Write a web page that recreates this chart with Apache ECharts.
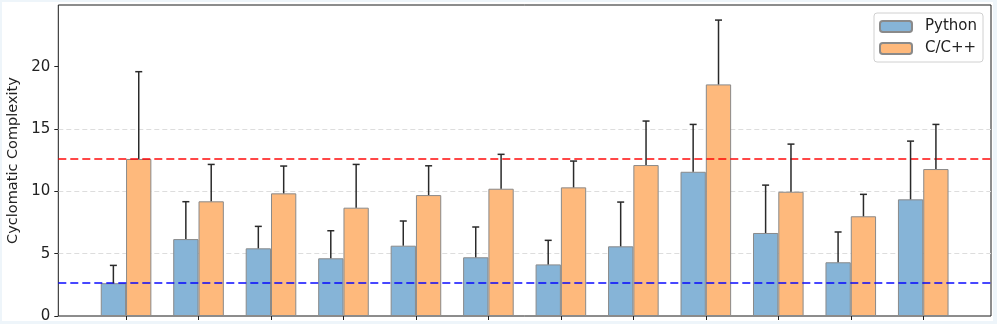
<!DOCTYPE html>
<html lang="en">
<head>
    <meta charset="UTF-8">
    <title>Cyclomatic Complexity</title>
    <style>
        body {
            margin: 0;
            background: #eef5fa;
            overflow: hidden;
        }

        #chart {
            position: absolute;
            left: 2px;
            top: 2px;
            width: 991px;
            height: 319px;
            background: #fff;
        }
    </style>
</head>
<body>
    <div id="chart"></div>
    <script src="https://cdn.jsdelivr.net/npm/echarts@6/dist/echarts.min.js"></script>
    <script>
        // group index 0..11, no visible labels in the source
        var groups = [0, 1, 2, 3, 4, 5, 6, 7, 8, 9, 10, 11];
        var seriesNames = ['Python', 'C/C++'];

        var pyMean = [2.63, 6.17, 5.43, 4.63, 5.64, 4.71, 4.14, 5.59, 11.57, 6.66, 4.31, 9.36];
        var pyErr = [1.43, 3.0, 1.76, 2.21, 1.98, 2.43, 1.93, 3.55, 3.8, 3.84, 2.43, 4.67];
        var cMean = [12.6, 9.2, 9.84, 8.69, 9.7, 10.21, 10.32, 12.11, 18.58, 9.97, 8.0, 11.79];
        var cErr = [7.0, 2.96, 2.19, 3.47, 2.35, 2.76, 2.11, 3.53, 5.16, 3.82, 1.76, 3.58];

        var yTicks = [0, 5, 10, 15, 20];

        var myChart = echarts.init(document.getElementById('chart'));

        var halfW = 0.175; // half bar width in axis units

        function barData(vals) {
            return vals.map(function (v, i) { return [groups[i], v]; });
        }

        function errData(vals, errs, off) {
            return vals.map(function (v, i) { return [groups[i] + off, v, errs[i]]; });
        }

        function renderErr(params, api) {
            var x = api.value(0);
            var top = api.coord([x, api.value(1) + api.value(2)]);
            var base = api.coord([x, api.value(1)]);
            var style = { stroke: '#2a2a2a', lineWidth: 1.5 };
            return {
                type: 'group',
                children: [
                    { type: 'line', shape: { x1: base[0], y1: base[1], x2: top[0], y2: top[1] }, style: style },
                    { type: 'line', shape: { x1: top[0] - 3.5, y1: top[1], x2: top[0] + 3.5, y2: top[1] }, style: style }
                ]
            };
        }

        var font = 'DejaVu Sans';

        var option = {
            animation: false,
            textStyle: { fontFamily: font },
            grid: {
                left: 56.3, right: 2, top: 3, bottom: 5,
                outerBoundsMode: 'none',
                containLabel: false,
                show: true, borderColor: '#1a1a1a', borderWidth: 1
            },
            legend: {
                orient: 'vertical',
                right: 10,
                top: 11,
                itemWidth: 32,
                itemHeight: 11,
                itemGap: 7,
                padding: [6, 6, 6, 5],
                borderColor: '#d0d0d0',
                borderWidth: 1,
                borderRadius: 3,
                backgroundColor: 'rgba(255,255,255,0.8)',
                textStyle: { fontSize: 15, color: '#222', fontFamily: font, padding: [0, 0, 0, 8] },
                data: seriesNames
            },
            xAxis: {
                type: 'value',
                min: -0.935,
                max: 11.935,
                axisLine: { show: false, onZero: false },
                splitLine: { show: false },
                axisTick: { show: true, customValues: groups, length: 4, lineStyle: { color: '#222' } },
                axisLabel: { show: false }
            },
            yAxis: {
                type: 'value',
                min: 0,
                max: 24.95,
                interval: 5,
                name: 'Cyclomatic Complexity',
                nameLocation: 'middle',
                nameGap: 38,
                nameTextStyle: { fontSize: 14.5, color: '#222', fontFamily: font },
                axisLine: { show: false, onZero: false },
                axisTick: { show: true, customValues: yTicks, length: 4, lineStyle: { color: '#222' } },
                axisLabel: { customValues: yTicks, fontSize: 15, color: '#222', margin: 8 },
                splitLine: {
                    show: true, showMinLine: false, showMaxLine: false,
                    lineStyle: { color: '#dddddd', type: [5, 3], width: 1 }
                }
            },
            series: [
                {
                    name: seriesNames[0],
                    type: 'bar',
                    barWidth: 25.3,
                    barGap: '0%',
                    data: barData(pyMean),
                    itemStyle: { color: '#86b4d7', borderColor: '#8a8a8a', borderWidth: 1 }
                },
                {
                    name: seriesNames[1],
                    type: 'bar',
                    barWidth: 25.3,
                    barGap: '0%',
                    data: barData(cMean),
                    itemStyle: { color: '#feb97c', borderColor: '#8a8a8a', borderWidth: 1 }
                },
                {
                    type: 'custom',
                    renderItem: renderErr,
                    data: errData(pyMean, pyErr, -halfW),
                    z: 5,
                    silent: true
                },
                {
                    type: 'custom',
                    renderItem: renderErr,
                    data: errData(cMean, cErr, halfW),
                    z: 5,
                    silent: true,
                    markLine: {
                        silent: true,
                        symbol: 'none',
                        label: { show: false },
                        data: [
                            { yAxis: cMean[0], lineStyle: { color: 'rgba(255,0,0,0.72)', type: [8, 4], width: 2 } },
                            { yAxis: pyMean[0], lineStyle: { color: 'rgba(0,0,255,0.72)', type: [8, 4], width: 2 } }
                        ]
                    }
                }
            ]
        };

        myChart.setOption(option);
    </script>
</body>
</html>
